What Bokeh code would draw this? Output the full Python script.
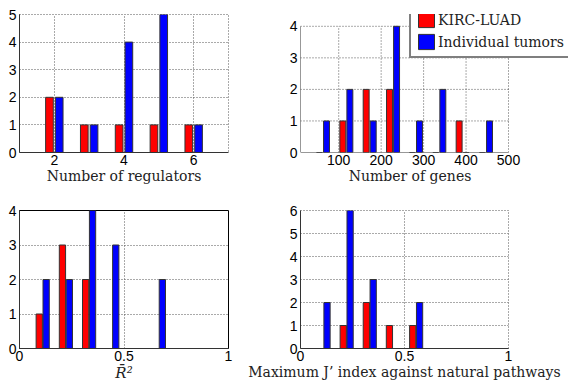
from bokeh.plotting import figure
from bokeh.models import Range1d, FixedTicker, Legend, LegendItem
from bokeh.layouts import column, row
from bokeh.embed import file_html
from bokeh.resources import INLINE

RED = "#ff0000"
BLUE = "#0000ff"

# Panel 1: number of regulators
reg_x = [2, 3, 4, 5, 6]
reg_kirc = [2, 1, 1, 1, 1]
reg_indiv = [2, 1, 4, 5, 1]

# Panel 2: number of genes
genes_x = [63, 118, 173, 228, 282, 337, 392, 447]
genes_kirc = [0, 1, 2, 2, 0, 0, 1, 0]
genes_indiv = [1, 2, 1, 4, 1, 2, 0, 1]

# Panel 3: adjusted R^2
r2_x = [0.0, 0.111, 0.222, 0.333, 0.444, 0.556, 0.667, 0.778, 0.889, 1.0]
r2_kirc = [0, 1, 3, 2, 0, 0, 0, 0, 0, 0]
r2_indiv = [0, 2, 2, 4, 3, 0, 2, 0, 0, 0]

# Panel 4: maximum J' index
j_x = [0.0, 0.111, 0.222, 0.333, 0.444, 0.556, 0.667, 0.778, 0.889, 1.0]
j_kirc = [0, 0, 1, 2, 1, 1, 0, 0, 0, 0]
j_indiv = [0, 2, 6, 3, 0, 2, 0, 0, 0, 0]

TICK_FONT = "Liberation Sans"
LABEL_FONT = "DejaVu Serif"
GRID_COLOR = "#555555"
AXIS_COLOR = "#333333"


def style_axes(p, xlabel, italic=False, label_size="14px", overrides=None):
    if overrides:
        p.xaxis.major_label_overrides = overrides
    for ax in (p.xaxis, p.yaxis):
        ax.axis_line_color = AXIS_COLOR
        ax.axis_line_width = 1
        ax.major_tick_in = 0
        ax.major_tick_out = 0
        ax.minor_tick_line_color = None
        ax.major_label_text_font = TICK_FONT
        ax.major_label_text_font_size = "14px"
        ax.major_label_text_color = "#000000"
    p.xaxis.major_label_standoff = 2
    p.yaxis.major_label_standoff = 3
    p.xaxis.axis_label = xlabel
    p.xaxis.axis_label_text_font = LABEL_FONT
    p.xaxis.axis_label_text_font_size = label_size
    p.xaxis.axis_label_text_color = "#222222"
    p.xaxis.axis_label_text_font_style = "italic" if italic else "normal"
    p.xaxis.axis_label_standoff = 0


def make_fig(w, h, bl, br, bt, bb, xr, yr, xticks, yticks, xlabel,
             box_solid=False, overrides=None, italic=False, label_size="14px"):
    p = figure(width=w, height=h, x_range=Range1d(*xr), y_range=Range1d(*yr),
               output_backend="svg", toolbar_location=None,
               min_border_left=bl, min_border_right=br,
               min_border_top=bt, min_border_bottom=bb,
               background_fill_color="white", border_fill_color="white")
    if box_solid:
        p.outline_line_color = "#000000"
        p.outline_line_width = 1
    else:
        p.outline_line_color = GRID_COLOR
        p.outline_line_dash = "1 2"
    p.xaxis.ticker = FixedTicker(ticks=xticks)
    p.yaxis.ticker = FixedTicker(ticks=yticks)
    style_axes(p, xlabel, italic, label_size, overrides)
    p.xgrid.ticker = FixedTicker(ticks=xticks)
    p.ygrid.ticker = FixedTicker(ticks=yticks)
    for g in (p.xgrid, p.ygrid):
        g.grid_line_color = GRID_COLOR
        g.grid_line_dash = "1 2"
        g.grid_line_width = 1
    return p


def bars(p, xs, a, b, off, width):
    r1 = p.vbar(x=[x - off for x in xs], top=a, bottom=0, width=width,
                fill_color=RED, line_color="#333333", line_width=1)
    r2 = p.vbar(x=[x + off for x in xs], top=b, bottom=0, width=width,
                fill_color=BLUE, line_color="#333333", line_width=1)
    return r1, r2


tl = make_fig(240, 194, 19, 12, 14, 41, (1, 7), (0, 5), [2, 4, 6],
              [0, 1, 2, 3, 4, 5], "Number of regulators")
bars(tl, reg_x, reg_kirc, reg_indiv, 0.14, 0.22)

# Top-right: frame widened so the legend can overhang the plotted box;
# the box itself (x 10..500, y 0..4) is drawn with segments.
genes_xr = (10, 500)
genes_yr = (0, 4)
genes_xticks = [100, 200, 300, 400, 500]
genes_yticks = [0, 1, 2, 3, 4]
px_per_x = 208 / (genes_xr[1] - genes_xr[0])
px_per_y = 139 / (genes_yr[1] - genes_yr[0])
tr_frame_w, tr_frame_h = 268, 152
tr = figure(width=328, height=194,
            x_range=Range1d(genes_xr[0], genes_xr[0] + tr_frame_w / px_per_x),
            y_range=Range1d(genes_yr[0], genes_yr[0] + tr_frame_h / px_per_y),
            output_backend="svg", toolbar_location=None,
            min_border_left=60, min_border_right=0,
            min_border_top=0, min_border_bottom=42,
            background_fill_color="white", border_fill_color="white")
tr.outline_line_color = None
tr.xgrid.visible = False
tr.ygrid.visible = False
tr.xaxis.ticker = FixedTicker(ticks=genes_xticks)
tr.yaxis.ticker = FixedTicker(ticks=genes_yticks)
# trailing wide spaces keep the label centred under the drawn box
style_axes(tr, "Number of genes\u2003\u2003\u2003\u2002")
tr.xaxis.axis_line_color = None
tr.yaxis.axis_line_color = None
# grid (dotted)
tr.segment(x0=[genes_xr[0]] * 4, x1=[genes_xr[1]] * 4,
           y0=genes_yticks[1:], y1=genes_yticks[1:],
           line_color=GRID_COLOR, line_dash="1 2", line_width=1)
tr.segment(x0=genes_xticks, x1=genes_xticks,
           y0=[genes_yr[0]] * 5, y1=[genes_yr[1]] * 5,
           line_color=GRID_COLOR, line_dash="1 2", line_width=1)
rr, rb = bars(tr, genes_x, genes_kirc, genes_indiv, 8.3, 14)
# axis lines (solid)
tr.segment(x0=[genes_xr[0], genes_xr[0]], x1=[genes_xr[1], genes_xr[0]],
           y0=[genes_yr[0], genes_yr[0]], y1=[genes_yr[0], genes_yr[1]],
           line_color=AXIS_COLOR, line_width=1)
legend = Legend(items=[LegendItem(label="KIRC-LUAD", renderers=[rr]),
                       LegendItem(label="Individual tumors", renderers=[rb])],
                location=(109, 94))
legend.border_line_color = "black"
legend.border_line_width = 2
legend.padding = 5
legend.spacing = 3
legend.margin = 0
legend.glyph_width = 20
legend.glyph_height = 19
legend.label_height = 19
legend.label_standoff = 2
legend.label_text_font = LABEL_FONT
legend.label_text_font_size = "14px"
legend.label_text_color = "#222222"
legend.background_fill_color = "white"
legend.background_fill_alpha = 1
tr.add_layout(legend)

ov = {0: "0", 0.5: "0.5", 1: "1"}
bl = make_fig(240, 193, 19, 12, 15, 39, (0, 1), (0, 4), [0, 0.5, 1],
              [0, 1, 2, 3, 4], "R\u0304\u00b2", box_solid=True, overrides=ov,
              italic=True, label_size="15px")
bars(bl, r2_x, r2_kirc, r2_indiv, 0.0165, 0.03)

br = make_fig(328, 193, 60, 60, 16, 37, (0, 1), (0, 6), [0, 0.5, 1],
              [0, 1, 2, 3, 4, 5, 6],
              "Maximum J\u2019 index against natural pathways", overrides=ov)
bars(br, j_x, j_kirc, j_indiv, 0.0165, 0.03)

layout = column(row(tl, tr), row(bl, br))
open("out.html", "w").write(file_html(layout, INLINE))
